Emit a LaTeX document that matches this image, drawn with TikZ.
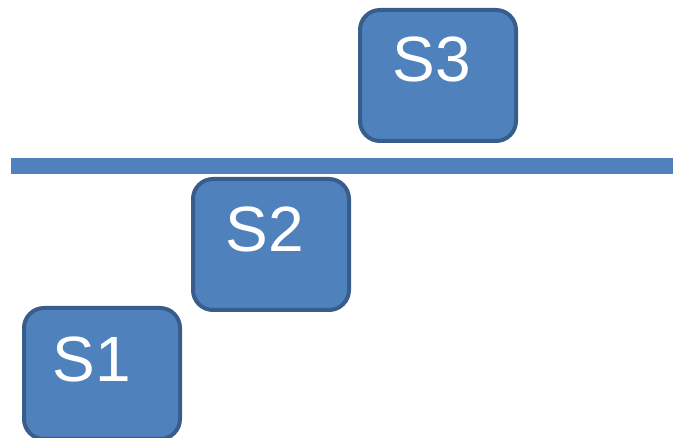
\documentclass[tikz,border=0pt]{standalone}
\usepackage{fontspec}
\setmainfont{Liberation Sans}
\definecolor{boxfill}{HTML}{4F81BD}
\definecolor{boxline}{HTML}{385D8A}
\begin{document}
\begin{tikzpicture}[x=1pt,y=-1pt,
  sbox/.style={draw=boxline, fill=boxfill, line width=4pt, rounded corners=20pt,
    minimum width=156pt, minimum height=131pt, inner sep=0pt, outer sep=0pt, anchor=north west},
  slabel/.style={text=white, font=\fontsize{64}{64}\selectfont, inner sep=0pt, anchor=base}]
\useasboundingbox (0,0) rectangle (673,438);
\fill[boxfill] (11,158) rectangle (673,174);
\node[sbox] (b3) at (360,10) {};
\node[sbox] (b2) at (193,179) {};
\node[sbox] (b1) at (24,308) {};
\node[slabel] (s3) at (432,82) {S3};
\node[slabel] (s2) at (264.5,252) {S2};
\node[slabel] (s1) at (92,382) {S1};
\end{tikzpicture}
\end{document}
